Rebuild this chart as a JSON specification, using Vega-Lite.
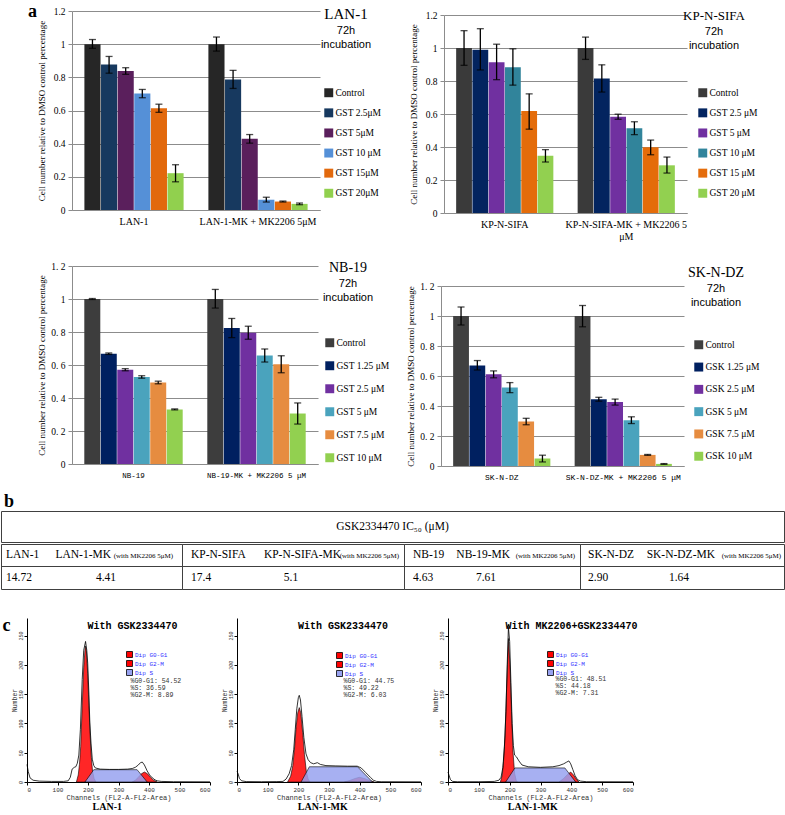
{
 "$schema": "https://vega.github.io/schema/vega-lite/v6.json",
 "padding": {"left": 0, "top": 3, "right": 0, "bottom": 0},
 "background": "white",
 "config": {"view": {"stroke": null}, "legend": {"labelLimit": 0}},
 "datasets": {
  "lan1": [
   {"group":"LAN-1","treat":"Control","value":1.0,"lo":0.975,"hi":1.028},
   {"group":"LAN-1","treat":"GST 2.5μM","value":0.877,"lo":0.825,"hi":0.926},
   {"group":"LAN-1","treat":"GST 5μM","value":0.838,"lo":0.818,"hi":0.858},
   {"group":"LAN-1","treat":"GST 10 μM","value":0.702,"lo":0.677,"hi":0.727},
   {"group":"LAN-1","treat":"GST 15μM","value":0.614,"lo":0.589,"hi":0.638},
   {"group":"LAN-1","treat":"GST 20μM","value":0.222,"lo":0.17,"hi":0.273},
   {"group":"LAN-1-MK + MK2206 5μM","treat":"Control","value":1.0,"lo":0.958,"hi":1.043},
   {"group":"LAN-1-MK + MK2206 5μM","treat":"GST 2.5μM","value":0.787,"lo":0.733,"hi":0.842},
   {"group":"LAN-1-MK + MK2206 5μM","treat":"GST 5μM","value":0.43,"lo":0.403,"hi":0.455},
   {"group":"LAN-1-MK + MK2206 5μM","treat":"GST 10 μM","value":0.062,"lo":0.048,"hi":0.077},
   {"group":"LAN-1-MK + MK2206 5μM","treat":"GST 15μM","value":0.051,"lo":0.048,"hi":0.054},
   {"group":"LAN-1-MK + MK2206 5μM","treat":"GST 20μM","value":0.037,"lo":0.032,"hi":0.042}
  ],
  "kp": [
   {"group":"KP-N-SIFA","treat":"Control","value":1.0,"lo":0.895,"hi":1.105},
   {"group":"KP-N-SIFA","treat":"GST 2.5 μM","value":0.99,"lo":0.867,"hi":1.117},
   {"group":"KP-N-SIFA","treat":"GST 5 μM","value":0.914,"lo":0.808,"hi":1.023},
   {"group":"KP-N-SIFA","treat":"GST 10 μM","value":0.884,"lo":0.775,"hi":0.995},
   {"group":"KP-N-SIFA","treat":"GST 15 μM","value":0.618,"lo":0.508,"hi":0.722},
   {"group":"KP-N-SIFA","treat":"GST 20 μM","value":0.347,"lo":0.309,"hi":0.384},
   {"group":"KP-N-SIFA-MK + MK2206 5 μM","treat":"Control","value":1.0,"lo":0.931,"hi":1.066},
   {"group":"KP-N-SIFA-MK + MK2206 5 μM","treat":"GST 2.5 μM","value":0.815,"lo":0.733,"hi":0.898},
   {"group":"KP-N-SIFA-MK + MK2206 5 μM","treat":"GST 5 μM","value":0.584,"lo":0.568,"hi":0.599},
   {"group":"KP-N-SIFA-MK + MK2206 5 μM","treat":"GST 10 μM","value":0.514,"lo":0.475,"hi":0.553},
   {"group":"KP-N-SIFA-MK + MK2206 5 μM","treat":"GST 15 μM","value":0.399,"lo":0.353,"hi":0.442},
   {"group":"KP-N-SIFA-MK + MK2206 5 μM","treat":"GST 20 μM","value":0.289,"lo":0.242,"hi":0.339}
  ],
  "nb19": [
   {"group":"NB-19","treat":"Control","value":1.0,"lo":0.997,"hi":1.003},
   {"group":"NB-19","treat":"GST 1.25 μM","value":0.668,"lo":0.664,"hi":0.673},
   {"group":"NB-19","treat":"GST 2.5 μM","value":0.571,"lo":0.565,"hi":0.578},
   {"group":"NB-19","treat":"GST 5 μM","value":0.527,"lo":0.52,"hi":0.535},
   {"group":"NB-19","treat":"GST 7.5 μM","value":0.494,"lo":0.486,"hi":0.502},
   {"group":"NB-19","treat":"GST 10 μM","value":0.331,"lo":0.328,"hi":0.334},
   {"group":"NB-19-MK + MK2206 5 μM","treat":"Control","value":1.0,"lo":0.945,"hi":1.058},
   {"group":"NB-19-MK + MK2206 5 μM","treat":"GST 1.25 μM","value":0.824,"lo":0.766,"hi":0.882},
   {"group":"NB-19-MK + MK2206 5 μM","treat":"GST 2.5 μM","value":0.795,"lo":0.756,"hi":0.835},
   {"group":"NB-19-MK + MK2206 5 μM","treat":"GST 5 μM","value":0.657,"lo":0.618,"hi":0.697},
   {"group":"NB-19-MK + MK2206 5 μM","treat":"GST 7.5 μM","value":0.604,"lo":0.553,"hi":0.656},
   {"group":"NB-19-MK + MK2206 5 μM","treat":"GST 10 μM","value":0.306,"lo":0.242,"hi":0.37}
  ],
  "skndz": [
   {"group":"SK-N-DZ","treat":"Control","value":1.0,"lo":0.94,"hi":1.06},
   {"group":"SK-N-DZ","treat":"GSK 1.25 μM","value":0.67,"lo":0.64,"hi":0.703},
   {"group":"SK-N-DZ","treat":"GSK 2.5 μM","value":0.612,"lo":0.588,"hi":0.634},
   {"group":"SK-N-DZ","treat":"GSK 5 μM","value":0.523,"lo":0.489,"hi":0.556},
   {"group":"SK-N-DZ","treat":"GSK 7.5 μM","value":0.297,"lo":0.275,"hi":0.318},
   {"group":"SK-N-DZ","treat":"GSK 10 μM","value":0.05,"lo":0.027,"hi":0.072},
   {"group":"SK-N-DZ-MK + MK2206 5 μM","treat":"Control","value":1.0,"lo":0.928,"hi":1.07},
   {"group":"SK-N-DZ-MK + MK2206 5 μM","treat":"GSK 1.25 μM","value":0.445,"lo":0.432,"hi":0.458},
   {"group":"SK-N-DZ-MK + MK2206 5 μM","treat":"GSK 2.5 μM","value":0.426,"lo":0.406,"hi":0.446},
   {"group":"SK-N-DZ-MK + MK2206 5 μM","treat":"GSK 5 μM","value":0.305,"lo":0.283,"hi":0.328},
   {"group":"SK-N-DZ-MK + MK2206 5 μM","treat":"GSK 7.5 μM","value":0.074,"lo":0.071,"hi":0.077},
   {"group":"SK-N-DZ-MK + MK2206 5 μM","treat":"GSK 10 μM","value":0.014,"lo":0.011,"hi":0.016}
  ],
  "tbl": [
   {"group":"LAN-1","row":"names","c1":"LAN-1","c2":"LAN-1-MK","note":"(with MK2206 5μM)"},
   {"group":"KP-N-SIFA","row":"names","c1":"KP-N-SIFA","c2":"KP-N-SIFA-MK","note":"(with MK2206 5μM)"},
   {"group":"NB-19","row":"names","c1":"NB-19","c2":"NB-19-MK","note":"(with MK2206 5μM)"},
   {"group":"SK-N-DZ","row":"names","c1":"SK-N-DZ","c2":"SK-N-DZ-MK","note":"(with MK2206 5μM)"},
   {"group":"LAN-1","row":"values","c1":"14.72","c2":"4.41"},
   {"group":"KP-N-SIFA","row":"values","c1":"17.4","c2":"5.1"},
   {"group":"NB-19","row":"values","c1":"4.63","c2":"7.61"},
   {"group":"SK-N-DZ","row":"values","c1":"2.90","c2":"1.64"}
  ],
  "h1": [
   {"s":"outline","ch":0,"n":30},{"s":"outline","ch":4,"n":18},{"s":"outline","ch":10,"n":7},{"s":"outline","ch":20,"n":3},{"s":"outline","ch":40,"n":1.5},{"s":"outline","ch":80,"n":1},{"s":"outline","ch":120,"n":1},{"s":"outline","ch":135,"n":2},{"s":"outline","ch":142,"n":8},{"s":"outline","ch":148,"n":22},{"s":"outline","ch":155,"n":25},{"s":"outline","ch":160,"n":26},{"s":"outline","ch":165,"n":32},{"s":"outline","ch":170,"n":46},{"s":"outline","ch":175,"n":90},{"s":"outline","ch":181,"n":175},{"s":"outline","ch":186,"n":225},{"s":"outline","ch":192,"n":240},{"s":"outline","ch":196,"n":225},{"s":"outline","ch":199,"n":203},{"s":"outline","ch":203,"n":150},{"s":"outline","ch":206,"n":101},{"s":"outline","ch":210,"n":65},{"s":"outline","ch":214,"n":39},{"s":"outline","ch":219,"n":28},{"s":"outline","ch":224,"n":24},{"s":"outline","ch":240,"n":22},{"s":"outline","ch":270,"n":21.5},{"s":"outline","ch":300,"n":21.5},{"s":"outline","ch":330,"n":22},{"s":"outline","ch":345,"n":23},{"s":"outline","ch":355,"n":25},{"s":"outline","ch":365,"n":29},{"s":"outline","ch":372,"n":33},{"s":"outline","ch":378,"n":34},{"s":"outline","ch":385,"n":29},{"s":"outline","ch":394,"n":19},{"s":"outline","ch":402,"n":12},{"s":"outline","ch":411,"n":7},{"s":"outline","ch":420,"n":3.5},{"s":"outline","ch":427,"n":2},{"s":"outline","ch":440,"n":1},{"s":"outline","ch":480,"n":0.5},{"s":"outline","ch":600,"n":0.3},
   {"s":"G0-G1","ch":162,"n":0},{"s":"G0-G1","ch":168,"n":12},{"s":"G0-G1","ch":172,"n":30},{"s":"G0-G1","ch":176,"n":60},{"s":"G0-G1","ch":181,"n":130},{"s":"G0-G1","ch":186,"n":195},{"s":"G0-G1","ch":190,"n":225},{"s":"G0-G1","ch":192,"n":232},{"s":"G0-G1","ch":195,"n":222},{"s":"G0-G1","ch":199,"n":185},{"s":"G0-G1","ch":203,"n":130},{"s":"G0-G1","ch":207,"n":80},{"s":"G0-G1","ch":211,"n":42},{"s":"G0-G1","ch":215,"n":18},{"s":"G0-G1","ch":220,"n":6},{"s":"G0-G1","ch":226,"n":0},
   {"s":"G2-M","ch":345,"n":0},{"s":"G2-M","ch":355,"n":3},{"s":"G2-M","ch":365,"n":8},{"s":"G2-M","ch":375,"n":14},{"s":"G2-M","ch":385,"n":17},{"s":"G2-M","ch":395,"n":14},{"s":"G2-M","ch":405,"n":8},{"s":"G2-M","ch":415,"n":3},{"s":"G2-M","ch":427,"n":0},
   {"s":"S","ch":190,"n":0},{"s":"S","ch":219,"n":21},{"s":"S","ch":361,"n":21},{"s":"S","ch":394,"n":0}
  ],
  "h2": [
   {"s":"outline","ch":0,"n":18},{"s":"outline","ch":3,"n":15},{"s":"outline","ch":8,"n":6},{"s":"outline","ch":15,"n":2},{"s":"outline","ch":30,"n":0.7},{"s":"outline","ch":80,"n":0.5},{"s":"outline","ch":130,"n":0.7},{"s":"outline","ch":150,"n":1},{"s":"outline","ch":160,"n":5},{"s":"outline","ch":170,"n":14},{"s":"outline","ch":178,"n":28},{"s":"outline","ch":185,"n":55},{"s":"outline","ch":190,"n":90},{"s":"outline","ch":195,"n":125},{"s":"outline","ch":200,"n":144},{"s":"outline","ch":203,"n":148},{"s":"outline","ch":207,"n":140},{"s":"outline","ch":212,"n":112},{"s":"outline","ch":218,"n":76},{"s":"outline","ch":225,"n":48},{"s":"outline","ch":232,"n":38},{"s":"outline","ch":240,"n":33},{"s":"outline","ch":250,"n":31},{"s":"outline","ch":262,"n":33},{"s":"outline","ch":272,"n":30},{"s":"outline","ch":290,"n":28},{"s":"outline","ch":320,"n":27.5},{"s":"outline","ch":360,"n":27},{"s":"outline","ch":392,"n":27},{"s":"outline","ch":405,"n":24},{"s":"outline","ch":420,"n":16},{"s":"outline","ch":435,"n":8},{"s":"outline","ch":445,"n":3},{"s":"outline","ch":455,"n":1},{"s":"outline","ch":470,"n":0.5},{"s":"outline","ch":600,"n":0.3},
   {"s":"G0-G1","ch":165,"n":0},{"s":"G0-G1","ch":175,"n":10},{"s":"G0-G1","ch":182,"n":28},{"s":"G0-G1","ch":188,"n":60},{"s":"G0-G1","ch":193,"n":95},{"s":"G0-G1","ch":198,"n":118},{"s":"G0-G1","ch":203,"n":127},{"s":"G0-G1","ch":208,"n":118},{"s":"G0-G1","ch":214,"n":85},{"s":"G0-G1","ch":220,"n":47},{"s":"G0-G1","ch":226,"n":18},{"s":"G0-G1","ch":232,"n":5},{"s":"G0-G1","ch":238,"n":0},
   {"s":"G2-M","ch":350,"n":0},{"s":"G2-M","ch":370,"n":3},{"s":"G2-M","ch":385,"n":6},{"s":"G2-M","ch":399,"n":8},{"s":"G2-M","ch":415,"n":6},{"s":"G2-M","ch":430,"n":3},{"s":"G2-M","ch":448,"n":0},
   {"s":"S","ch":209,"n":0},{"s":"S","ch":236,"n":26},{"s":"S","ch":393,"n":26},{"s":"S","ch":442,"n":0}
  ],
  "h3": [
   {"s":"outline","ch":0,"n":17},{"s":"outline","ch":3,"n":12},{"s":"outline","ch":8,"n":4},{"s":"outline","ch":15,"n":1},{"s":"outline","ch":30,"n":0.5},{"s":"outline","ch":100,"n":0.5},{"s":"outline","ch":150,"n":1},{"s":"outline","ch":165,"n":3},{"s":"outline","ch":172,"n":8},{"s":"outline","ch":178,"n":25},{"s":"outline","ch":183,"n":60},{"s":"outline","ch":188,"n":120},{"s":"outline","ch":192,"n":200},{"s":"outline","ch":196,"n":264},{"s":"outline","ch":200,"n":240},{"s":"outline","ch":204,"n":170},{"s":"outline","ch":208,"n":100},{"s":"outline","ch":212,"n":62},{"s":"outline","ch":216,"n":46},{"s":"outline","ch":222,"n":43},{"s":"outline","ch":230,"n":36},{"s":"outline","ch":240,"n":29},{"s":"outline","ch":260,"n":26},{"s":"outline","ch":300,"n":25},{"s":"outline","ch":340,"n":26},{"s":"outline","ch":360,"n":28},{"s":"outline","ch":375,"n":31},{"s":"outline","ch":385,"n":34},{"s":"outline","ch":392,"n":36},{"s":"outline","ch":398,"n":31},{"s":"outline","ch":405,"n":21},{"s":"outline","ch":412,"n":11},{"s":"outline","ch":420,"n":4},{"s":"outline","ch":430,"n":1.5},{"s":"outline","ch":450,"n":0.5},{"s":"outline","ch":600,"n":0.3},
   {"s":"G0-G1","ch":170,"n":0},{"s":"G0-G1","ch":176,"n":12},{"s":"G0-G1","ch":180,"n":35},{"s":"G0-G1","ch":185,"n":80},{"s":"G0-G1","ch":190,"n":160},{"s":"G0-G1","ch":196,"n":245},{"s":"G0-G1","ch":201,"n":200},{"s":"G0-G1","ch":206,"n":120},{"s":"G0-G1","ch":211,"n":50},{"s":"G0-G1","ch":216,"n":15},{"s":"G0-G1","ch":221,"n":3},{"s":"G0-G1","ch":225,"n":0},
   {"s":"G2-M","ch":360,"n":0},{"s":"G2-M","ch":375,"n":6},{"s":"G2-M","ch":388,"n":13},{"s":"G2-M","ch":398,"n":17},{"s":"G2-M","ch":407,"n":12},{"s":"G2-M","ch":416,"n":5},{"s":"G2-M","ch":425,"n":0},
   {"s":"S","ch":187,"n":0},{"s":"S","ch":217,"n":24},{"s":"S","ch":379,"n":24},{"s":"S","ch":414,"n":0}
  ],
  "st1": [{"stat":"%G0-G1: 54.52"},{"stat":"%S: 36.59"},{"stat":"%G2-M: 8.89"}],
  "st2": [{"stat":"%G0-G1: 44.75"},{"stat":"%S: 49.22"},{"stat":"%G2-M: 6.03"}],
  "st3": [{"stat":"%G0-G1: 48.51"},{"stat":"%S: 44.18"},{"stat":"%G2-M: 7.31"}]
 },
 "spacing": 11,
 "resolve": {"scale": {"color": "independent", "xOffset": "independent", "shape": "independent"}, "legend": {"color": "independent", "shape": "independent"}},
 "vconcat": [
  {
   "spacing": 0,
   "resolve": {"scale": {"color": "independent", "xOffset": "independent", "shape": "independent"}, "legend": {"color": "independent", "shape": "independent"}},
   "hconcat": [
    {
     "width": 27, "height": 2,
     "data": {"values": [{"panel": "a"}]},
     "mark": {"type": "text", "font": "Liberation Serif", "fontSize": 18, "fontWeight": "bold", "color": "#000", "dx": 18, "baseline": "middle"},
     "encoding": {"text": {"field": "panel"}}
    },
    {
     "spacing": 20,
     "resolve": {"scale": {"color": "independent", "xOffset": "independent", "shape": "independent"}, "legend": {"color": "independent", "shape": "independent"}},
     "vconcat": [
      {
       "spacing": 27,
       "resolve": {"scale": {"color": "independent", "xOffset": "independent", "shape": "independent"}, "legend": {"color": "independent", "shape": "independent"}},
       "hconcat": [
        {
         "width": 248, "height": 199,
         "data": {"name": "lan1"},
         "title": {"text": "LAN-1", "subtitle": ["72h", "incubation"], "anchor": "end", "frame": "group", "align": "center", "dx": 26, "offset": -44, "font": "Liberation Serif", "fontSize": 15, "fontWeight": "normal", "color": "#000", "subtitleFont": "Liberation Sans", "subtitleFontSize": 11, "subtitleColor": "#000", "subtitlePadding": 3, "subtitleLineHeight": 14},
         "encoding": {
          "x": {"field": "group", "type": "nominal", "sort": null, "title": null, "scale": {"paddingInner": 0.2, "paddingOuter": 0.1}, "axis": {"labelAngle": 0, "ticks": false, "labelFont": "Liberation Serif", "labelFontSize": 10, "labelColor": "#000", "labelPadding": 6, "domainColor": "#8c8c8c", "labelLimit": 0}},
          "xOffset": {"field": "treat", "type": "nominal", "sort": null, "scale": {"paddingInner": 0.03}}
         },
         "layer": [
          {"mark": {"type": "bar"}, "encoding": {
            "y": {"field": "value", "type": "quantitative", "scale": {"domain": [0, 1.2]}, "axis": {"title": "Cell number relative to DMSO control percentage", "values": [0, 0.2, 0.4, 0.6, 0.8, 1, 1.2], "tickCount": 20, "labelExpr": "toString(datum.value)", "grid": true, "gridColor": "#8c8c8c", "domainColor": "#8c8c8c", "tickColor": "#8c8c8c", "tickSize": 4, "labelFont": "Liberation Serif", "labelFontSize": 9.5, "labelColor": "#000", "labelPadding": 3, "titleFont": "Liberation Serif", "titleFontSize": 9, "titleFontWeight": "normal", "titleColor": "#000", "titlePadding": 2, "minExtent": 24, "maxExtent": 24}},
            "color": {"field": "treat", "type": "nominal", "scale": {"domain": ["Control", "GST 2.5μM", "GST 5μM", "GST 10 μM", "GST 15μM", "GST 20μM"], "range": ["#262626", "#17395f", "#5a1f5c", "#5590d7", "#e2690d", "#91d04e"]}, "legend": {"orient": "none", "legendX": 252, "legendY": 77, "title": null, "symbolType": "square", "symbolSize": 80, "symbolStrokeWidth": 0, "labelFont": "Liberation Serif", "labelFontSize": 9.5, "labelColor": "#000", "rowPadding": 9.1, "labelOffset": 2}}
          }},
          {"mark": {"type": "rule", "color": "#000", "strokeWidth": 1.3}, "encoding": {"y": {"field": "lo", "type": "quantitative", "scale": {"domain": [0, 1.2]}}, "y2": {"field": "hi"}}},
          {"mark": {"type": "tick", "color": "#000", "thickness": 1.3, "size": 7}, "encoding": {"y": {"field": "lo", "type": "quantitative", "scale": {"domain": [0, 1.2]}}}},
          {"mark": {"type": "tick", "color": "#000", "thickness": 1.3, "size": 7}, "encoding": {"y": {"field": "hi", "type": "quantitative", "scale": {"domain": [0, 1.2]}}}}
         ]
        },
        {
         "width": 243, "height": 202,
         "data": {"name": "kp"},
         "title": {"text": "KP-N-SIFA", "subtitle": ["72h", "incubation"], "anchor": "end", "frame": "group", "align": "center", "dx": 27, "offset": -41, "font": "Liberation Serif", "fontSize": 13, "fontWeight": "normal", "color": "#000", "subtitleFont": "Liberation Sans", "subtitleFontSize": 11, "subtitleColor": "#000", "subtitlePadding": 3, "subtitleLineHeight": 14},
         "encoding": {
          "x": {"field": "group", "type": "nominal", "sort": null, "title": null, "scale": {"paddingInner": 0.2, "paddingOuter": 0.1}, "axis": {"labelAngle": 0, "ticks": false, "labelFont": "Liberation Serif", "labelFontSize": 10, "labelColor": "#000", "labelPadding": 6, "domainColor": "#8c8c8c", "labelLimit": 0, "labelExpr": "datum.label == 'KP-N-SIFA-MK + MK2206 5 μM' ? ['KP-N-SIFA-MK + MK2206 5', 'μM'] : datum.label"}},
          "xOffset": {"field": "treat", "type": "nominal", "sort": null, "scale": {"paddingInner": 0.03}}
         },
         "layer": [
          {"mark": {"type": "bar"}, "encoding": {
            "y": {"field": "value", "type": "quantitative", "scale": {"domain": [0, 1.2], "range": [202, 4]}, "axis": {"title": "Cell number relative to DMSO control percentage", "values": [0, 0.2, 0.4, 0.6, 0.8, 1, 1.2], "tickCount": 20, "labelExpr": "toString(datum.value)", "grid": true, "gridColor": "#8c8c8c", "domainColor": "#8c8c8c", "tickColor": "#8c8c8c", "tickSize": 4, "labelFont": "Liberation Serif", "labelFontSize": 9.5, "labelColor": "#000", "labelPadding": 3, "titleFont": "Liberation Serif", "titleFontSize": 9, "titleFontWeight": "normal", "titleColor": "#000", "titlePadding": 2, "minExtent": 24, "maxExtent": 24}},
            "color": {"field": "treat", "type": "nominal", "scale": {"domain": ["Control", "GST 2.5 μM", "GST 5 μM", "GST 10 μM", "GST 15 μM", "GST 20 μM"], "range": ["#3a3a3a", "#03245f", "#7030a0", "#31849b", "#e46c0a", "#92d050"]}, "legend": {"orient": "none", "legendX": 254, "legendY": 77, "title": null, "symbolType": "square", "symbolSize": 80, "symbolStrokeWidth": 0, "labelFont": "Liberation Serif", "labelFontSize": 9.5, "labelColor": "#000", "rowPadding": 9.1, "labelOffset": 2}}
          }},
          {"mark": {"type": "rule", "color": "#000", "strokeWidth": 1.3}, "encoding": {"y": {"field": "lo", "type": "quantitative", "scale": {"domain": [0, 1.2], "range": [202, 4]}}, "y2": {"field": "hi"}}},
          {"mark": {"type": "tick", "color": "#000", "thickness": 1.3, "size": 7}, "encoding": {"y": {"field": "lo", "type": "quantitative", "scale": {"domain": [0, 1.2], "range": [202, 4]}}}},
          {"mark": {"type": "tick", "color": "#000", "thickness": 1.3, "size": 7}, "encoding": {"y": {"field": "hi", "type": "quantitative", "scale": {"domain": [0, 1.2], "range": [202, 4]}}}}
         ]
        }
       ]
      },
      {
       "spacing": 16,
       "resolve": {"scale": {"color": "independent", "xOffset": "independent", "shape": "independent"}, "legend": {"color": "independent", "shape": "independent"}},
       "hconcat": [
        {
         "width": 246, "height": 198,
         "data": {"name": "nb19"},
         "title": {"text": "NB-19", "subtitle": ["72h", "incubation"], "anchor": "end", "frame": "group", "align": "center", "dx": 30, "offset": -42, "font": "Liberation Serif", "fontSize": 14, "fontWeight": "normal", "color": "#000", "subtitleFont": "Liberation Sans", "subtitleFontSize": 11, "subtitleColor": "#000", "subtitlePadding": 3, "subtitleLineHeight": 14},
         "encoding": {
          "x": {"field": "group", "type": "nominal", "sort": null, "title": null, "scale": {"paddingInner": 0.2, "paddingOuter": 0.1}, "axis": {"labelAngle": 0, "ticks": false, "labelFont": "Liberation Mono", "labelFontSize": 7.5, "labelColor": "#000", "labelPadding": 7, "domainColor": "#8c8c8c", "labelLimit": 0}},
          "xOffset": {"field": "treat", "type": "nominal", "sort": null, "scale": {"paddingInner": 0.03}}
         },
         "layer": [
          {"mark": {"type": "bar"}, "encoding": {
            "y": {"field": "value", "type": "quantitative", "scale": {"domain": [0, 1.2]}, "axis": {"title": "Cell number relative to DMSO control percentage", "values": [0, 0.2, 0.4, 0.6, 0.8, 1, 1.2], "tickCount": 20, "labelExpr": "replace(toString(datum.value), '.', '. ')", "grid": true, "gridColor": "#8c8c8c", "domainColor": "#8c8c8c", "tickColor": "#8c8c8c", "tickSize": 4, "labelFont": "Liberation Serif", "labelFontSize": 9.5, "labelColor": "#000", "labelPadding": 3, "titleFont": "Liberation Serif", "titleFontSize": 9, "titleFontWeight": "normal", "titleColor": "#000", "titlePadding": 2, "minExtent": 24, "maxExtent": 24}},
            "color": {"field": "treat", "type": "nominal", "scale": {"domain": ["Control", "GST 1.25 μM", "GST 2.5 μM", "GST 5 μM", "GST 7.5 μM", "GST 10 μM"], "range": ["#3d3d3d", "#002060", "#7030a0", "#4aa3bd", "#e68c40", "#92d050"]}, "legend": {"orient": "none", "legendX": 253, "legendY": 72, "title": null, "symbolType": "square", "symbolSize": 80, "symbolStrokeWidth": 0, "labelFont": "Liberation Serif", "labelFontSize": 9.5, "labelColor": "#000", "rowPadding": 12, "labelOffset": 2}}
          }},
          {"mark": {"type": "rule", "color": "#000", "strokeWidth": 1.3}, "encoding": {"y": {"field": "lo", "type": "quantitative", "scale": {"domain": [0, 1.2]}}, "y2": {"field": "hi"}}},
          {"mark": {"type": "tick", "color": "#000", "thickness": 1.3, "size": 7}, "encoding": {"y": {"field": "lo", "type": "quantitative", "scale": {"domain": [0, 1.2]}}}},
          {"mark": {"type": "tick", "color": "#000", "thickness": 1.3, "size": 7}, "encoding": {"y": {"field": "hi", "type": "quantitative", "scale": {"domain": [0, 1.2]}}}}
         ]
        },
        {
         "width": 243, "height": 200,
         "data": {"name": "skndz"},
         "title": {"text": "SK-N-DZ", "subtitle": ["72h", "incubation"], "anchor": "end", "frame": "group", "align": "center", "dx": 32, "offset": -42, "font": "Liberation Serif", "fontSize": 14, "fontWeight": "normal", "color": "#000", "subtitleFont": "Liberation Sans", "subtitleFontSize": 11, "subtitleColor": "#000", "subtitlePadding": 3, "subtitleLineHeight": 14},
         "encoding": {
          "x": {"field": "group", "type": "nominal", "sort": null, "title": null, "scale": {"paddingInner": 0.2, "paddingOuter": 0.1}, "axis": {"labelAngle": 0, "ticks": false, "labelFont": "Liberation Mono", "labelFontSize": 8, "labelColor": "#000", "labelPadding": 7, "domainColor": "#8c8c8c", "labelLimit": 0}},
          "xOffset": {"field": "treat", "type": "nominal", "sort": null, "scale": {"paddingInner": 0.03}}
         },
         "layer": [
          {"mark": {"type": "bar"}, "encoding": {
            "y": {"field": "value", "type": "quantitative", "scale": {"domain": [0, 1.2], "range": [200, 20]}, "axis": {"title": "Cell number relative to DMSO control percentage", "values": [0, 0.2, 0.4, 0.6, 0.8, 1, 1.2], "tickCount": 20, "labelExpr": "replace(toString(datum.value), '.', '. ')", "grid": true, "gridColor": "#8c8c8c", "domainColor": "#8c8c8c", "tickColor": "#8c8c8c", "tickSize": 4, "labelFont": "Liberation Serif", "labelFontSize": 9.5, "labelColor": "#000", "labelPadding": 3, "titleFont": "Liberation Serif", "titleFontSize": 9, "titleFontWeight": "normal", "titleColor": "#000", "titlePadding": 2, "minExtent": 24, "maxExtent": 24}},
            "color": {"field": "treat", "type": "nominal", "scale": {"domain": ["Control", "GSK 1.25 μM", "GSK 2.5 μM", "GSK 5 μM", "GSK 7.5 μM", "GSK 10 μM"], "range": ["#404040", "#002060", "#7030a0", "#4aa3bd", "#e68c40", "#92d050"]}, "legend": {"orient": "none", "legendX": 253, "legendY": 74, "title": null, "symbolType": "square", "symbolSize": 80, "symbolStrokeWidth": 0, "labelFont": "Liberation Serif", "labelFontSize": 9.5, "labelColor": "#000", "rowPadding": 11.3, "labelOffset": 2}}
          }},
          {"mark": {"type": "rule", "color": "#000", "strokeWidth": 1.3}, "encoding": {"y": {"field": "lo", "type": "quantitative", "scale": {"domain": [0, 1.2], "range": [200, 20]}}, "y2": {"field": "hi"}}},
          {"mark": {"type": "tick", "color": "#000", "thickness": 1.3, "size": 7}, "encoding": {"y": {"field": "lo", "type": "quantitative", "scale": {"domain": [0, 1.2], "range": [200, 20]}}}},
          {"mark": {"type": "tick", "color": "#000", "thickness": 1.3, "size": 7}, "encoding": {"y": {"field": "hi", "type": "quantitative", "scale": {"domain": [0, 1.2], "range": [200, 20]}}}}
         ]
        }
       ]
      }
     ]
    }
   ]
  },
  {
   "spacing": 27,
   "resolve": {"scale": {"color": "independent", "xOffset": "independent", "shape": "independent"}, "legend": {"color": "independent", "shape": "independent"}},
   "vconcat": [
    {
     "spacing": 0,
     "title": {"text": "b", "anchor": "start", "frame": "bounds", "dx": 4, "offset": 0, "font": "Liberation Serif", "fontSize": 18, "fontWeight": "bold", "color": "#000"},
     "vconcat": [
      {
       "width": 783, "height": 31,
       "view": {"stroke": "#404040", "strokeWidth": 1},
       "data": {"values": [{"t": "GSK2334470 IC₅₀ (μM)"}]},
       "mark": {"type": "text", "font": "Liberation Serif", "fontSize": 11.5, "color": "#000"},
       "encoding": {"text": {"field": "t"}}
      },
      {
       "spacing": 0,
       "bounds": "flush",
       "hconcat": [
        {
         "width": 181, "height": 45, "view": {"stroke": "#404040", "strokeWidth": 1},
         "data": {"name": "tbl"}, "transform": [{"filter": "datum.group == 'LAN-1'"}],
         "layer": [
          {"transform": [{"filter": "datum.row == 'values'"}], "mark": {"type": "rule", "color": "#404040"}, "encoding": {"y": {"field": "row", "type": "nominal", "bandPosition": 0, "axis": null, "scale": {"type": "band", "domain": ["names", "values"], "paddingInner": 0, "paddingOuter": 0}}}},
          {"mark": {"type": "text", "align": "left", "dx": 5, "font": "Liberation Serif", "fontSize": 11.5, "color": "#000"}, "encoding": {"x": {"field": "group", "type": "nominal", "bandPosition": 0, "axis": null, "scale": {"type": "band", "paddingInner": 0, "paddingOuter": 0}}, "y": {"field": "row", "type": "nominal", "axis": null}, "text": {"field": "c1"}}},
          {"transform": [{"filter": "datum.row == 'names'"}], "mark": {"type": "text", "align": "right", "dx": -71, "font": "Liberation Serif", "fontSize": 11.5, "color": "#000"}, "encoding": {"x": {"field": "group", "type": "nominal", "bandPosition": 1, "axis": null}, "y": {"field": "row", "type": "nominal", "axis": null}, "text": {"field": "c2"}}},
          {"transform": [{"filter": "datum.row == 'names'"}], "mark": {"type": "text", "align": "right", "dx": -9, "dy": 1, "font": "Liberation Serif", "fontSize": 7, "color": "#000"}, "encoding": {"x": {"field": "group", "type": "nominal", "bandPosition": 1, "axis": null}, "y": {"field": "row", "type": "nominal", "axis": null}, "text": {"field": "note"}}},
          {"transform": [{"filter": "datum.row == 'values'"}], "mark": {"type": "text", "align": "center", "dx": 105, "font": "Liberation Serif", "fontSize": 11.5, "color": "#000"}, "encoding": {"x": {"field": "group", "type": "nominal", "bandPosition": 0, "axis": null}, "y": {"field": "row", "type": "nominal", "axis": null}, "text": {"field": "c2"}}}
         ]
        },
        {
         "width": 222, "height": 45, "view": {"stroke": "#404040", "strokeWidth": 1},
         "data": {"name": "tbl"}, "transform": [{"filter": "datum.group == 'KP-N-SIFA'"}],
         "layer": [
          {"transform": [{"filter": "datum.row == 'values'"}], "mark": {"type": "rule", "color": "#404040"}, "encoding": {"y": {"field": "row", "type": "nominal", "bandPosition": 0, "axis": null, "scale": {"type": "band", "domain": ["names", "values"], "paddingInner": 0, "paddingOuter": 0}}}},
          {"mark": {"type": "text", "align": "left", "dx": 9, "font": "Liberation Serif", "fontSize": 11.5, "color": "#000"}, "encoding": {"x": {"field": "group", "type": "nominal", "bandPosition": 0, "axis": null, "scale": {"type": "band", "paddingInner": 0, "paddingOuter": 0}}, "y": {"field": "row", "type": "nominal", "axis": null}, "text": {"field": "c1"}}},
          {"transform": [{"filter": "datum.row == 'names'"}], "mark": {"type": "text", "align": "right", "dx": -63, "font": "Liberation Serif", "fontSize": 11.5, "color": "#000"}, "encoding": {"x": {"field": "group", "type": "nominal", "bandPosition": 1, "axis": null}, "y": {"field": "row", "type": "nominal", "axis": null}, "text": {"field": "c2"}}},
          {"transform": [{"filter": "datum.row == 'names'"}], "mark": {"type": "text", "align": "right", "dx": -5, "dy": 1, "font": "Liberation Serif", "fontSize": 7, "color": "#000"}, "encoding": {"x": {"field": "group", "type": "nominal", "bandPosition": 1, "axis": null}, "y": {"field": "row", "type": "nominal", "axis": null}, "text": {"field": "note"}}},
          {"transform": [{"filter": "datum.row == 'values'"}], "mark": {"type": "text", "align": "center", "dx": 109, "font": "Liberation Serif", "fontSize": 11.5, "color": "#000"}, "encoding": {"x": {"field": "group", "type": "nominal", "bandPosition": 0, "axis": null}, "y": {"field": "row", "type": "nominal", "axis": null}, "text": {"field": "c2"}}}
         ]
        },
        {
         "width": 176, "height": 45, "view": {"stroke": "#404040", "strokeWidth": 1},
         "data": {"name": "tbl"}, "transform": [{"filter": "datum.group == 'NB-19'"}],
         "layer": [
          {"transform": [{"filter": "datum.row == 'values'"}], "mark": {"type": "rule", "color": "#404040"}, "encoding": {"y": {"field": "row", "type": "nominal", "bandPosition": 0, "axis": null, "scale": {"type": "band", "domain": ["names", "values"], "paddingInner": 0, "paddingOuter": 0}}}},
          {"mark": {"type": "text", "align": "left", "dx": 9, "font": "Liberation Serif", "fontSize": 11.5, "color": "#000"}, "encoding": {"x": {"field": "group", "type": "nominal", "bandPosition": 0, "axis": null, "scale": {"type": "band", "paddingInner": 0, "paddingOuter": 0}}, "y": {"field": "row", "type": "nominal", "axis": null}, "text": {"field": "c1"}}},
          {"transform": [{"filter": "datum.row == 'names'"}], "mark": {"type": "text", "align": "right", "dx": -70, "font": "Liberation Serif", "fontSize": 11.5, "color": "#000"}, "encoding": {"x": {"field": "group", "type": "nominal", "bandPosition": 1, "axis": null}, "y": {"field": "row", "type": "nominal", "axis": null}, "text": {"field": "c2"}}},
          {"transform": [{"filter": "datum.row == 'names'"}], "mark": {"type": "text", "align": "right", "dx": -5, "dy": 1, "font": "Liberation Serif", "fontSize": 7, "color": "#000"}, "encoding": {"x": {"field": "group", "type": "nominal", "bandPosition": 1, "axis": null}, "y": {"field": "row", "type": "nominal", "axis": null}, "text": {"field": "note"}}},
          {"transform": [{"filter": "datum.row == 'values'"}], "mark": {"type": "text", "align": "center", "dx": 82, "font": "Liberation Serif", "fontSize": 11.5, "color": "#000"}, "encoding": {"x": {"field": "group", "type": "nominal", "bandPosition": 0, "axis": null}, "y": {"field": "row", "type": "nominal", "axis": null}, "text": {"field": "c2"}}}
         ]
        },
        {
         "width": 204, "height": 45, "view": {"stroke": "#404040", "strokeWidth": 1},
         "data": {"name": "tbl"}, "transform": [{"filter": "datum.group == 'SK-N-DZ'"}],
         "layer": [
          {"transform": [{"filter": "datum.row == 'values'"}], "mark": {"type": "rule", "color": "#404040"}, "encoding": {"y": {"field": "row", "type": "nominal", "bandPosition": 0, "axis": null, "scale": {"type": "band", "domain": ["names", "values"], "paddingInner": 0, "paddingOuter": 0}}}},
          {"mark": {"type": "text", "align": "left", "dx": 8, "font": "Liberation Serif", "fontSize": 11.5, "color": "#000"}, "encoding": {"x": {"field": "group", "type": "nominal", "bandPosition": 0, "axis": null, "scale": {"type": "band", "paddingInner": 0, "paddingOuter": 0}}, "y": {"field": "row", "type": "nominal", "axis": null}, "text": {"field": "c1"}}},
          {"transform": [{"filter": "datum.row == 'names'"}], "mark": {"type": "text", "align": "right", "dx": -69, "font": "Liberation Serif", "fontSize": 11.5, "color": "#000"}, "encoding": {"x": {"field": "group", "type": "nominal", "bandPosition": 1, "axis": null}, "y": {"field": "row", "type": "nominal", "axis": null}, "text": {"field": "c2"}}},
          {"transform": [{"filter": "datum.row == 'names'"}], "mark": {"type": "text", "align": "right", "dx": -3, "dy": 1, "font": "Liberation Serif", "fontSize": 7, "color": "#000"}, "encoding": {"x": {"field": "group", "type": "nominal", "bandPosition": 1, "axis": null}, "y": {"field": "row", "type": "nominal", "axis": null}, "text": {"field": "note"}}},
          {"transform": [{"filter": "datum.row == 'values'"}], "mark": {"type": "text", "align": "center", "dx": 99, "font": "Liberation Serif", "fontSize": 11.5, "color": "#000"}, "encoding": {"x": {"field": "group", "type": "nominal", "bandPosition": 0, "axis": null}, "y": {"field": "row", "type": "nominal", "axis": null}, "text": {"field": "c2"}}}
         ]
        }
       ]
      }
     ]
    },
    {
     "spacing": 0,
     "resolve": {"scale": {"color": "independent", "xOffset": "independent", "shape": "independent"}, "legend": {"color": "independent", "shape": "independent"}},
     "hconcat": [
      {
       "width": 1, "height": 2,
       "data": {"values": [{"panel": "c"}]},
       "mark": {"type": "text", "font": "Liberation Serif", "fontSize": 18, "fontWeight": "bold", "color": "#000", "dx": 5, "dy": 7, "baseline": "middle"},
       "encoding": {"text": {"field": "panel"}}
      },
      {
       "spacing": 9,
       "resolve": {"scale": {"color": "independent", "xOffset": "independent", "shape": "independent"}, "legend": {"color": "independent", "shape": "independent"}},
       "hconcat": [
        {
         "title": {"text": "LAN-1", "orient": "bottom", "anchor": "middle", "frame": "bounds", "dx": -4, "offset": 2, "font": "Liberation Serif", "fontSize": 10, "fontWeight": "bold", "color": "#000"},
         "vconcat": [
          {
           "width": 183, "height": 164,
           "title": {"text": "With GSK2334470", "anchor": "middle", "frame": "group", "dx": 14, "offset": -13, "font": "Liberation Mono", "fontSize": 10, "fontWeight": "bold", "color": "#000"},
           "layer": [
            {"data": {"name": "h1"}, "transform": [{"filter": "datum.s != 'outline'"}], "mark": {"type": "area", "stroke": "#000", "strokeWidth": 0.6, "fillOpacity": 0.85},
             "encoding": {
              "x": {"field": "ch", "type": "quantitative", "scale": {"domain": [0, 600], "nice": false}, "axis": {"values": [0, 100, 200, 300, 400, 500, 600], "tickCount": 20, "title": "Channels (FL2-A-FL2-Area)", "titleFont": "Liberation Mono", "titleFontSize": 7, "titleFontWeight": "normal", "titlePadding": 1, "titleColor": "#333", "labelFont": "Liberation Mono", "labelFontSize": 6, "labelPadding": 1, "labelColor": "#333", "tickSize": 3, "domainColor": "#000", "tickColor": "#000", "grid": false}},
              "y": {"field": "n", "type": "quantitative", "stack": null, "scale": {"domain": [0, 280], "nice": false}, "axis": {"values": [0, 50, 100, 150, 200, 250], "tickCount": 20, "title": "Number", "titleFont": "Liberation Mono", "titleFontSize": 6.5, "titleFontWeight": "normal", "titlePadding": 1, "titleColor": "#333", "labelFont": "Liberation Mono", "labelFontSize": 5, "labelAngle": -90, "labelPadding": 1, "labelColor": "#333", "tickSize": 3, "domainColor": "#000", "tickColor": "#000", "grid": false}},
              "color": {"field": "s", "type": "nominal", "scale": {"domain": ["G0-G1", "G2-M", "S"], "range": ["#ff0000", "#ff0000", "#98a2f0"]}, "legend": {"orient": "none", "legendX": 99, "legendY": 33, "title": null, "symbolType": "square", "symbolSize": 36, "symbolStrokeColor": "#000", "symbolStrokeWidth": 0.8, "labelExpr": "'Dip ' + datum.label", "labelFont": "Liberation Mono", "labelFontSize": 6, "labelColor": "#3030ff", "rowPadding": -12.5, "labelOffset": 2}}
             }},
            {"data": {"name": "h1"}, "transform": [{"filter": "datum.s == 'outline'"}], "mark": {"type": "line", "color": "#000", "strokeWidth": 0.8},
             "encoding": {"x": {"field": "ch", "type": "quantitative"}, "y": {"field": "n", "type": "quantitative"}}},
            {"data": {"name": "st1"}, "mark": {"type": "point", "opacity": 0},
             "encoding": {"shape": {"field": "stat", "type": "nominal", "scale": {"domain": ["%G0-G1: 54.52", "%S: 36.59", "%G2-M: 8.89"]}, "legend": {"orient": "none", "legendX": 97, "legendY": 60, "title": null, "symbolSize": 1, "symbolOpacity": 0, "labelFont": "Liberation Mono", "labelFontSize": 6.5, "labelColor": "#333", "rowPadding": -6.5, "labelOffset": 0}}}}
           ]
          }
         ]
        },
        {
         "title": {"text": "LAN-1-MK", "orient": "bottom", "anchor": "middle", "frame": "bounds", "dx": 1, "offset": 2, "font": "Liberation Serif", "fontSize": 10, "fontWeight": "bold", "color": "#000"},
         "vconcat": [
          {
           "width": 184, "height": 164,
           "title": {"text": "With GSK2334470", "anchor": "middle", "frame": "group", "dx": 14, "offset": -13, "font": "Liberation Mono", "fontSize": 10, "fontWeight": "bold", "color": "#000"},
           "layer": [
            {"data": {"name": "h2"}, "transform": [{"filter": "datum.s != 'outline'"}], "mark": {"type": "area", "stroke": "#000", "strokeWidth": 0.6, "fillOpacity": 0.85},
             "encoding": {
              "x": {"field": "ch", "type": "quantitative", "scale": {"domain": [0, 600], "nice": false}, "axis": {"values": [0, 100, 200, 300, 400, 500, 600], "tickCount": 20, "title": "Channels (FL2-A-FL2-Area)", "titleFont": "Liberation Mono", "titleFontSize": 7, "titleFontWeight": "normal", "titlePadding": 1, "titleColor": "#333", "labelFont": "Liberation Mono", "labelFontSize": 6, "labelPadding": 1, "labelColor": "#333", "tickSize": 3, "domainColor": "#000", "tickColor": "#000", "grid": false}},
              "y": {"field": "n", "type": "quantitative", "stack": null, "scale": {"domain": [0, 280], "nice": false}, "axis": {"values": [0, 50, 100, 150, 200, 250], "tickCount": 20, "title": "Number", "titleFont": "Liberation Mono", "titleFontSize": 6.5, "titleFontWeight": "normal", "titlePadding": 1, "titleColor": "#333", "labelFont": "Liberation Mono", "labelFontSize": 5, "labelAngle": -90, "labelPadding": 1, "labelColor": "#333", "tickSize": 3, "domainColor": "#000", "tickColor": "#000", "grid": false}},
              "color": {"field": "s", "type": "nominal", "scale": {"domain": ["G0-G1", "G2-M", "S"], "range": ["#ff0000", "#ff0000", "#98a2f0"]}, "legend": {"orient": "none", "legendX": 99, "legendY": 34, "title": null, "symbolType": "square", "symbolSize": 36, "symbolStrokeColor": "#000", "symbolStrokeWidth": 0.8, "labelExpr": "'Dip ' + datum.label", "labelFont": "Liberation Mono", "labelFontSize": 6, "labelColor": "#3030ff", "rowPadding": -12.5, "labelOffset": 2}}
             }},
            {"data": {"name": "h2"}, "transform": [{"filter": "datum.s == 'outline'"}], "mark": {"type": "line", "color": "#000", "strokeWidth": 0.8},
             "encoding": {"x": {"field": "ch", "type": "quantitative"}, "y": {"field": "n", "type": "quantitative"}}},
            {"data": {"name": "st2"}, "mark": {"type": "point", "opacity": 0},
             "encoding": {"shape": {"field": "stat", "type": "nominal", "scale": {"domain": ["%G0-G1: 44.75", "%S: 49.22", "%G2-M: 6.03"]}, "legend": {"orient": "none", "legendX": 100, "legendY": 60, "title": null, "symbolSize": 1, "symbolOpacity": 0, "labelFont": "Liberation Mono", "labelFontSize": 6.5, "labelColor": "#333", "rowPadding": -6.5, "labelOffset": 0}}}}
           ]
          }
         ]
        },
        {
         "title": {"text": "LAN-1-MK", "orient": "bottom", "anchor": "middle", "frame": "bounds", "dx": -2, "offset": 2, "font": "Liberation Serif", "fontSize": 10, "fontWeight": "bold", "color": "#000"},
         "vconcat": [
          {
           "width": 185, "height": 164,
           "title": {"text": "With MK2206+GSK2334470", "anchor": "middle", "frame": "group", "dx": 31, "offset": -13, "font": "Liberation Mono", "fontSize": 10, "fontWeight": "bold", "color": "#000"},
           "layer": [
            {"data": {"name": "h3"}, "transform": [{"filter": "datum.s != 'outline'"}], "mark": {"type": "area", "stroke": "#000", "strokeWidth": 0.6, "fillOpacity": 0.85},
             "encoding": {
              "x": {"field": "ch", "type": "quantitative", "scale": {"domain": [0, 600], "nice": false}, "axis": {"values": [0, 100, 200, 300, 400, 500, 600], "tickCount": 20, "title": "Channels (FL2-A-FL2-Area)", "titleFont": "Liberation Mono", "titleFontSize": 7, "titleFontWeight": "normal", "titlePadding": 1, "titleColor": "#333", "labelFont": "Liberation Mono", "labelFontSize": 6, "labelPadding": 1, "labelColor": "#333", "tickSize": 3, "domainColor": "#000", "tickColor": "#000", "grid": false}},
              "y": {"field": "n", "type": "quantitative", "stack": null, "scale": {"domain": [0, 280], "nice": false}, "axis": {"values": [0, 50, 100, 150, 200, 250], "tickCount": 20, "title": "Number", "titleFont": "Liberation Mono", "titleFontSize": 6.5, "titleFontWeight": "normal", "titlePadding": 1, "titleColor": "#333", "labelFont": "Liberation Mono", "labelFontSize": 5, "labelAngle": -90, "labelPadding": 1, "labelColor": "#333", "tickSize": 3, "domainColor": "#000", "tickColor": "#000", "grid": false}},
              "color": {"field": "s", "type": "nominal", "scale": {"domain": ["G0-G1", "G2-M", "S"], "range": ["#ff0000", "#ff0000", "#98a2f0"]}, "legend": {"orient": "none", "legendX": 99, "legendY": 33, "title": null, "symbolType": "square", "symbolSize": 36, "symbolStrokeColor": "#000", "symbolStrokeWidth": 0.8, "labelExpr": "'Dip ' + datum.label", "labelFont": "Liberation Mono", "labelFontSize": 6, "labelColor": "#3030ff", "rowPadding": -12.5, "labelOffset": 2}}
             }},
            {"data": {"name": "h3"}, "transform": [{"filter": "datum.s == 'outline'"}], "mark": {"type": "line", "color": "#000", "strokeWidth": 0.8},
             "encoding": {"x": {"field": "ch", "type": "quantitative"}, "y": {"field": "n", "type": "quantitative"}}},
            {"data": {"name": "st3"}, "mark": {"type": "point", "opacity": 0},
             "encoding": {"shape": {"field": "stat", "type": "nominal", "scale": {"domain": ["%G0-G1: 48.51", "%S: 44.18", "%G2-M: 7.31"]}, "legend": {"orient": "none", "legendX": 101, "legendY": 58, "title": null, "symbolSize": 1, "symbolOpacity": 0, "labelFont": "Liberation Mono", "labelFontSize": 6.5, "labelColor": "#333", "rowPadding": -6.5, "labelOffset": 0}}}}
           ]
          }
         ]
        }
       ]
      }
     ]
    }
   ]
  }
 ]
}
